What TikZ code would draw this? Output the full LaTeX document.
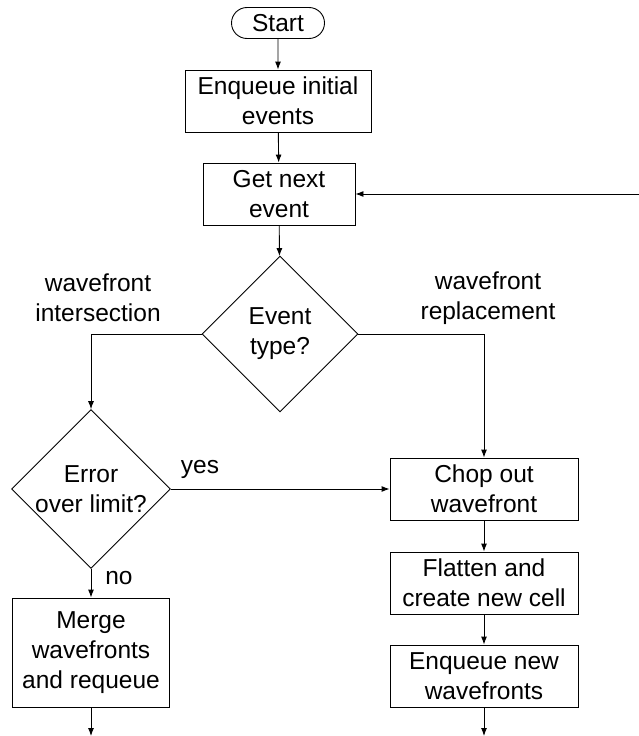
\documentclass[tikz,border=0pt]{standalone}
\usepackage{fontspec}
\setmainfont{Liberation Sans}
\usetikzlibrary{shapes.geometric,shapes.misc,arrows.meta}
\begin{document}
\begin{tikzpicture}[x=1pt,y=-1pt,
  every node/.style={font=\fontsize{24.5}{30}\selectfont, align=center, inner sep=0pt},
  box/.style={draw, line width=0.9pt, rectangle},
  dia/.style={draw, line width=0.9pt, diamond, aspect=1},
  term/.style={draw, line width=0.9pt, rounded rectangle, minimum width=93pt, minimum height=31pt},
  lbl/.style={},
  arr/.style={line width=0.9pt, -{Latex[length=8pt,width=6pt]}},
  ln/.style={line width=0.9pt}]
\useasboundingbox (0,0) rectangle (639,736);
\node[term] (start) at (278,23) {Start};
\node[box, minimum width=186pt, minimum height=62pt] (enq) at (278,101) {Enqueue initial\\events};
\node[box, minimum width=152pt, minimum height=62pt] (get) at (279,194) {Get next\\event};
\node[dia, minimum width=156pt, minimum height=156pt] (evt) at (280,334) {Event\\type?};
\node[dia, minimum width=157pt, minimum height=154pt] (err) at (91,489) {Error\\over limit?};
\node[box, minimum width=188pt, minimum height=62pt] (chop) at (484,489) {Chop out\\wavefront};
\node[box, minimum width=188pt, minimum height=62pt] (flat) at (484,583) {Flatten and\\create new cell};
\node[box, minimum width=188pt, minimum height=62pt] (enqn) at (484,676) {Enqueue new\\wavefronts};
\node[box, minimum width=157pt, minimum height=109pt] (merge) at (91,652.5) {Merge\\wavefronts\\and requeue};
\node[lbl] (lint) at (98,298) {wavefront\\intersection};
\node[lbl] (lrep) at (488,298) {wavefront\\replacement};
\node[lbl] (lyes) at (200,469) {yes};
\node[lbl] (lno) at (119,578) {no};
\coordinate (loop) at (639,194);
\coordinate (endl) at (91,736);
\coordinate (endr) at (484,736);
\draw[arr] (start) -- (enq);
\draw[arr] (enq) -- (get);
\draw[arr] (get) -- (evt);
\draw[arr] (loop) -- (get.east);
\draw[arr] (evt.west) -| (err.north);
\draw[arr] (evt.east) -| (chop.north);
\draw[arr] (err.east) -- (chop.west);
\draw[arr] (err.south) -- (merge.north);
\draw[arr] (chop) -- (flat);
\draw[arr] (flat) -- (enqn);
\draw[arr] (merge.south) -- (endl);
\draw[arr] (enqn.south) -- (endr);
\end{tikzpicture}
\end{document}
